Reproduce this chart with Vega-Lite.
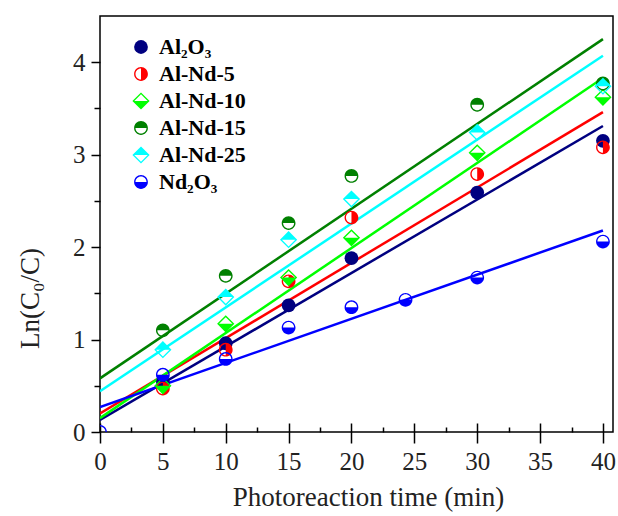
{
  "$schema": "https://vega.github.io/schema/vega-lite/v6.json",
  "autosize": {"type": "none"},
  "padding": {"left": 100, "top": 16, "right": 5, "bottom": 84},
  "width": 513,
  "height": 416,
  "background": "white",
  "config": {
    "font": "Liberation Serif",
    "view": {"stroke": "black", "strokeWidth": 1.5},
    "axis": {"labelFont": "Liberation Serif", "labelFontSize": 25, "labelColor": "#222", "titleFont": "Liberation Serif", "titleFontSize": 27, "titleFontWeight": "normal", "titleColor": "#222", "tickColor": "black", "tickWidth": 1.5, "grid": false, "domain": false}
  },
  "datasets": {
    "pts": [
      {"series": "Al₂O₃", "t": 5, "v": 0.54}, {"series": "Al₂O₃", "t": 10, "v": 0.96}, {"series": "Al₂O₃", "t": 15, "v": 1.37}, {"series": "Al₂O₃", "t": 20, "v": 1.88}, {"series": "Al₂O₃", "t": 30, "v": 2.59}, {"series": "Al₂O₃", "t": 40, "v": 3.15},
      {"series": "Al-Nd-5", "t": 5, "v": 0.47}, {"series": "Al-Nd-5", "t": 10, "v": 0.89}, {"series": "Al-Nd-5", "t": 15, "v": 1.63}, {"series": "Al-Nd-5", "t": 20, "v": 2.32}, {"series": "Al-Nd-5", "t": 30, "v": 2.79}, {"series": "Al-Nd-5", "t": 40, "v": 3.08},
      {"series": "Al-Nd-10", "t": 5, "v": 0.5}, {"series": "Al-Nd-10", "t": 10, "v": 1.17}, {"series": "Al-Nd-10", "t": 15, "v": 1.67}, {"series": "Al-Nd-10", "t": 20, "v": 2.1}, {"series": "Al-Nd-10", "t": 30, "v": 3.02}, {"series": "Al-Nd-10", "t": 40, "v": 3.62},
      {"series": "Al-Nd-15", "t": 5, "v": 1.1}, {"series": "Al-Nd-15", "t": 10, "v": 1.69}, {"series": "Al-Nd-15", "t": 15, "v": 2.26}, {"series": "Al-Nd-15", "t": 20, "v": 2.77}, {"series": "Al-Nd-15", "t": 30, "v": 3.54}, {"series": "Al-Nd-15", "t": 40, "v": 3.77},
      {"series": "Al-Nd-25", "t": 5, "v": 0.89}, {"series": "Al-Nd-25", "t": 10, "v": 1.46}, {"series": "Al-Nd-25", "t": 15, "v": 2.08}, {"series": "Al-Nd-25", "t": 20, "v": 2.52}, {"series": "Al-Nd-25", "t": 30, "v": 3.24}, {"series": "Al-Nd-25", "t": 40, "v": 3.74},
      {"series": "Nd₂O₃", "t": 0, "v": 0}, {"series": "Nd₂O₃", "t": 5, "v": 0.62}, {"series": "Nd₂O₃", "t": 10, "v": 0.79}, {"series": "Nd₂O₃", "t": 15, "v": 1.13}, {"series": "Nd₂O₃", "t": 20, "v": 1.35}, {"series": "Nd₂O₃", "t": 24.3, "v": 1.43}, {"series": "Nd₂O₃", "t": 30, "v": 1.67}, {"series": "Nd₂O₃", "t": 40, "v": 2.06}
    ],
    "fits": [
      {"series": "Al₂O₃", "t": 0, "v": 0.13}, {"series": "Al₂O₃", "t": 40, "v": 3.31},
      {"series": "Al-Nd-5", "t": 0, "v": 0.2}, {"series": "Al-Nd-5", "t": 40, "v": 3.46},
      {"series": "Al-Nd-10", "t": 0, "v": 0.15}, {"series": "Al-Nd-10", "t": 40, "v": 3.83},
      {"series": "Al-Nd-15", "t": 0, "v": 0.58}, {"series": "Al-Nd-15", "t": 40, "v": 4.25},
      {"series": "Al-Nd-25", "t": 0, "v": 0.44}, {"series": "Al-Nd-25", "t": 40, "v": 4.07},
      {"series": "Nd₂O₃", "t": 0, "v": 0.27}, {"series": "Nd₂O₃", "t": 40, "v": 2.18}
    ]
  },
  "layer": [
    {
      "data": {"name": "fits"},
      "mark": {"type": "line", "strokeWidth": 2.5, "clip": true},
      "encoding": {
        "x": {"field": "t", "type": "quantitative", "scale": {"domain": [0, 40.8], "nice": false, "zero": false},
              "axis": {"orient": "bottom", "values": [0, 5, 10, 15, 20, 25, 30, 35, 40], "offset": -9, "tickSize": 20, "labelPadding": 6, "title": "Photoreaction time (min)", "titlePadding": 10, "titleX": 268, "labelFlush": false}},
        "y": {"field": "v", "type": "quantitative", "scale": {"domain": [0, 4.5], "nice": false},
              "axis": {"orient": "left", "values": [0, 1, 2, 3, 4], "tickSize": 9, "labelPadding": 6, "title": "Ln(C₀/C)", "titleX": -70, "titleY": 282, "titleBaseline": "middle", "labelFlush": false}},
        "stroke": {"field": "series", "type": "nominal", "legend": null,
                  "scale": {"domain": ["Nd₂O₃", "Al-Nd-25", "Al-Nd-15", "Al-Nd-10", "Al-Nd-5", "Al₂O₃"], "range": ["#0000FF", "#00FFFF", "#008000", "#00FF00", "#FF0000", "#000080"]}},
        "detail": {"field": "series"}
      }
    },
    {
      "data": {"name": "pts"},
      "mark": {"type": "point", "filled": true, "opacity": 1, "size": 190, "strokeWidth": 0, "clip": true},
      "encoding": {
        "x": {"field": "t", "type": "quantitative",
              "axis": {"orient": "bottom", "values": [2.5, 7.5, 12.5, 17.5, 22.5, 27.5, 32.5, 37.5], "offset": -5, "tickSize": 5, "labels": false, "title": null}},
        "y": {"field": "v", "type": "quantitative",
              "axis": {"orient": "left", "values": [0.5, 1.5, 2.5, 3.5], "tickSize": 6, "labels": false, "title": null}},
        "color": {"field": "series", "type": "nominal",
                 "scale": {"domain": ["Al₂O₃", "Al-Nd-5", "Al-Nd-10", "Al-Nd-15", "Al-Nd-25", "Nd₂O₃"], "range": ["#000080", "#FF0000", "#00FF00", "#008000", "#00FFFF", "#0000FF"]},
                 "legend": {"title": null, "orient": "none", "legendX": 30, "legendY": 20, "padding": 0, "labelFont": "Liberation Serif", "labelFontSize": 22, "labelFontWeight": "bold", "labelColor": "black", "symbolSize": 190, "symbolStrokeWidth": 0, "rowPadding": 5, "labelOffset": 7}},
        "shape": {"field": "series", "type": "nominal",
                  "scale": {"domain": ["Al₂O₃", "Al-Nd-5", "Al-Nd-10", "Al-Nd-15", "Al-Nd-25", "Nd₂O₃"],
                            "range": [
                              "circle",
                              "M-1,0A1,1 0 0,1 1,0A1,1 0 0,1 -1,0ZM-0.8,0A0.8,0.8 0 0,0 0.8,0A0.8,0.8 0 0,0 -0.8,0ZM0,-1A1,1 0 0,1 0,1Z",
                              "M0,-1.25L1.25,0L0,1.25L-1.25,0ZM0,-0.97L-0.97,0L0,0.97L0.97,0ZM1.25,0L0,1.25L-1.25,0Z",
                              "M-1,0A1,1 0 0,1 1,0A1,1 0 0,1 -1,0ZM-0.8,0A0.8,0.8 0 0,0 0.8,0A0.8,0.8 0 0,0 -0.8,0ZM-1,0A1,1 0 0,1 1,0Z",
                              "M0,-1.25L1.25,0L0,1.25L-1.25,0ZM0,-0.97L-0.97,0L0,0.97L0.97,0ZM-1.25,0L0,-1.25L1.25,0Z",
                              "M-1,0A1,1 0 0,1 1,0A1,1 0 0,1 -1,0ZM-0.8,0A0.8,0.8 0 0,0 0.8,0A0.8,0.8 0 0,0 -0.8,0ZM1,0A1,1 0 0,1 -1,0Z"
                            ]},
                  "legend": {"title": null, "orient": "none", "legendX": 30, "legendY": 20, "padding": 0, "labelFont": "Liberation Serif", "labelFontSize": 22, "labelFontWeight": "bold", "labelColor": "black", "symbolSize": 190, "symbolStrokeWidth": 0, "rowPadding": 5, "labelOffset": 7}}
      }
    }
  ],
  "resolve": {"axis": {"x": "independent", "y": "independent"}}
}
